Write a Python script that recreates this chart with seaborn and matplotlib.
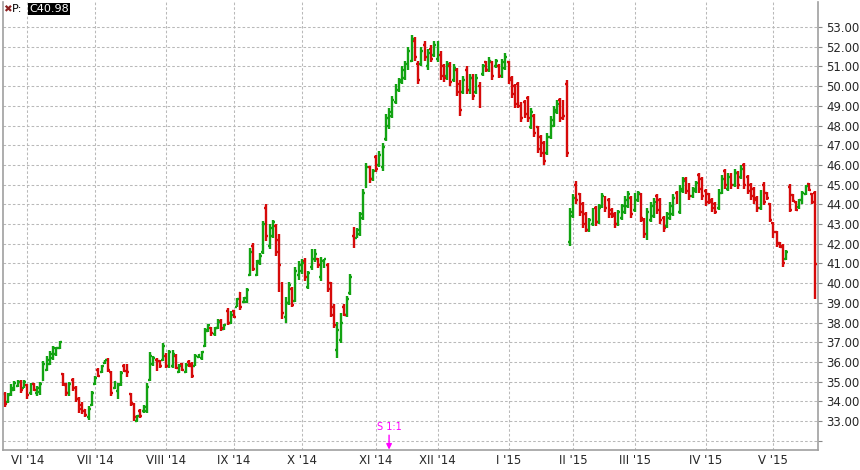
"""Daily OHLC bar chart, May 2014 - May 2015."""

import numpy as np
import pandas as pd
import matplotlib
matplotlib.use('Agg')
import matplotlib.pyplot as plt
import seaborn as sns

# trading calendar (exchange holidays inside the range)
holidays = ['2014-05-26', '2014-07-04', '2014-09-01', '2014-11-27', '2014-12-25',
            '2015-01-01', '2015-01-19', '2015-02-16', '2015-04-03']
dates = pd.bdate_range('2014-05-21', periods=252, freq='C', holidays=holidays)

opens = [
    34.35, 33.95, 34.35, 34.60, 34.80, 35.00, 34.70, 34.85, 34.40, 34.90,
    34.40, 34.45, 35.10, 35.60, 35.90, 36.20, 36.40, 36.70, 35.40, 34.85,
    34.40, 35.10, 34.70, 34.10, 33.80, 33.55, 33.20, 33.80, 34.90, 35.60,
    35.50, 35.95, 36.10, 35.50, 34.70, 34.50, 34.90, 35.80, 35.80, 34.35,
    33.85, 33.00, 33.50, 33.50, 33.50, 35.10, 35.90, 36.10, 36.05, 36.10,
    36.30, 35.80, 35.80, 36.30, 35.50, 35.90, 35.50, 36.00, 35.90, 35.80,
    36.25, 36.20, 36.80, 37.55, 37.70, 37.40, 37.70, 38.10, 37.65, 38.60,
    38.00, 38.60, 38.80, 39.50, 39.05, 39.05, 40.40, 41.90, 40.40, 41.00,
    41.60, 43.80, 41.90, 42.40, 42.90, 42.20, 39.90, 38.30, 39.00, 39.70,
    39.10, 40.40, 40.60, 41.10, 39.80, 40.80, 41.20, 41.20, 40.30, 40.90,
    40.90, 40.00, 38.80, 36.60, 37.10, 38.80, 38.40, 39.50, 42.40, 42.30,
    42.50, 43.30, 44.90, 45.90, 45.30, 46.40, 46.00, 45.90, 47.30, 48.00,
    48.50, 49.20, 49.80, 50.20, 50.40, 50.90, 51.30, 52.30, 51.10, 51.10,
    52.10, 51.00, 51.90, 51.60, 51.40, 51.60, 51.00, 50.50, 51.00, 50.30,
    50.80, 50.10, 49.70, 50.80, 49.80, 50.40, 49.70, 50.00, 50.60, 51.20,
    50.80, 51.20, 51.00, 51.00, 50.50, 50.90, 51.20, 50.40, 50.00, 50.10,
    49.10, 49.20, 49.40, 47.90, 48.50, 47.90, 47.40, 47.10, 46.60, 47.40,
    48.00, 48.70, 49.30, 49.20, 50.10, 42.10, 43.40, 45.00, 44.50, 44.00,
    43.50, 42.70, 43.00, 43.80, 43.10, 43.90, 44.30, 44.20, 43.70, 43.50,
    43.00, 43.30, 43.60, 43.90, 44.30, 43.70, 44.20, 44.50, 43.20, 42.30,
    43.20, 43.40, 44.40, 44.20, 43.30, 42.90, 43.30, 43.50, 44.60, 43.60,
    44.70, 45.30, 45.00, 44.40, 44.70, 45.50, 45.30, 44.70, 44.50, 44.20,
    44.00, 43.80, 44.60, 45.70, 44.80, 45.50, 45.00, 45.60, 45.40, 46.00,
    45.40, 45.00, 44.80, 44.30, 43.80, 45.00, 44.55, 44.00, 43.05, 42.60,
    42.05, 41.90, 41.25, 44.90, 44.45, 44.10, 43.85, 44.05, 44.50, 45.05,
    44.50, 44.60,
]
highs = [
    34.46, 34.41, 34.88, 35.05, 35.10, 35.10, 35.10, 34.90, 34.93, 34.93,
    34.80, 34.97, 36.07, 36.30, 36.54, 36.83, 36.78, 37.05, 35.44, 34.92,
    35.00, 35.17, 34.80, 34.21, 33.99, 33.62, 33.74, 34.55, 35.27, 35.68,
    35.86, 36.12, 36.20, 35.56, 35.05, 34.92, 35.56, 35.90, 35.90, 34.43,
    33.90, 33.33, 33.62, 33.82, 34.92, 36.52, 36.32, 36.20, 36.12, 36.95,
    36.46, 36.62, 36.60, 36.40, 35.90, 35.95, 35.93, 36.12, 35.98, 36.40,
    36.40, 36.58, 37.73, 37.93, 37.76, 37.76, 38.20, 38.20, 37.93, 38.72,
    38.57, 38.65, 39.24, 39.56, 39.31, 39.75, 41.77, 42.03, 41.18, 41.52,
    43.16, 44.00, 43.00, 43.20, 43.00, 42.50, 40.05, 39.29, 40.08, 39.80,
    40.81, 41.10, 41.20, 41.27, 40.64, 41.71, 41.71, 41.29, 41.32, 41.25,
    41.03, 40.07, 38.94, 38.05, 38.50, 38.94, 39.36, 40.46, 42.86, 42.79,
    43.62, 44.77, 46.09, 45.95, 45.78, 46.51, 46.71, 47.13, 48.60, 48.90,
    49.50, 50.10, 50.40, 51.00, 51.30, 52.00, 52.60, 52.50, 51.30, 52.00,
    52.30, 51.90, 52.10, 52.30, 52.30, 51.80, 51.10, 51.30, 51.20, 51.10,
    50.90, 50.30, 50.50, 51.00, 50.60, 50.60, 50.60, 50.20, 51.10, 51.30,
    51.50, 51.30, 51.40, 51.10, 51.40, 51.70, 51.30, 50.50, 50.10, 50.20,
    49.20, 49.30, 49.50, 48.90, 48.60, 48.00, 47.50, 47.20, 47.60, 48.50,
    49.00, 49.30, 49.40, 49.30, 50.30, 43.80, 44.50, 45.20, 44.60, 44.10,
    43.60, 43.30, 43.80, 43.90, 44.00, 44.60, 44.40, 44.30, 43.80, 43.60,
    43.70, 44.00, 44.40, 44.70, 44.40, 44.60, 44.70, 44.60, 43.30, 43.80,
    44.10, 44.30, 44.50, 44.30, 43.40, 43.60, 44.10, 44.50, 44.70, 45.00,
    45.40, 45.40, 45.10, 44.90, 45.20, 45.60, 45.40, 44.80, 44.60, 44.30,
    44.10, 44.80, 45.50, 45.80, 45.60, 45.60, 45.80, 45.70, 46.00, 46.10,
    45.50, 45.10, 44.90, 44.40, 44.72, 45.11, 44.63, 44.07, 43.10, 42.67,
    42.10, 41.99, 41.68, 45.03, 44.53, 44.19, 44.29, 44.67, 45.00, 45.10,
    44.60, 44.69,
]
lows = [
    33.70, 33.90, 34.29, 34.51, 34.72, 34.41, 34.66, 34.11, 34.33, 34.55,
    34.26, 34.34, 35.02, 35.53, 35.85, 36.10, 36.32, 36.66, 34.77, 34.29,
    34.26, 34.55, 33.96, 33.40, 33.36, 33.20, 33.03, 33.75, 34.85, 35.22,
    35.44, 35.90, 35.48, 34.29, 34.63, 34.12, 34.77, 35.48, 35.22, 33.75,
    32.98, 32.94, 33.14, 33.41, 33.41, 35.05, 35.78, 35.53, 35.70, 36.03,
    35.70, 35.68, 35.70, 35.64, 35.44, 35.53, 35.44, 35.76, 35.17, 35.78,
    36.20, 36.12, 36.75, 37.50, 37.34, 37.30, 37.66, 37.56, 37.60, 37.88,
    37.93, 38.22, 38.77, 38.65, 39.00, 39.00, 40.34, 40.60, 40.34, 40.93,
    41.50, 42.15, 41.75, 42.30, 41.40, 39.55, 38.19, 37.97, 38.91, 38.81,
    39.03, 40.14, 40.47, 40.10, 39.68, 40.69, 41.07, 40.76, 40.10, 40.78,
    39.54, 38.27, 37.71, 36.19, 36.97, 38.32, 38.27, 39.42, 41.76, 42.27,
    42.40, 43.22, 44.85, 45.10, 45.16, 45.65, 45.87, 45.70, 47.20, 47.80,
    48.40, 49.10, 49.70, 50.10, 50.30, 50.80, 51.20, 51.30, 50.10, 51.00,
    51.30, 50.80, 51.20, 51.50, 51.20, 50.30, 50.20, 50.30, 50.00, 50.20,
    49.50, 48.50, 49.60, 49.60, 49.60, 49.30, 49.60, 48.90, 50.50, 50.70,
    50.70, 50.30, 50.90, 50.40, 50.40, 50.80, 50.10, 49.40, 48.90, 48.90,
    48.20, 48.40, 48.20, 47.80, 47.40, 46.60, 46.40, 46.00, 46.50, 47.30,
    47.90, 48.60, 48.20, 48.30, 46.40, 41.90, 43.30, 44.00, 43.40, 42.80,
    42.60, 42.60, 42.90, 42.90, 43.00, 43.80, 43.60, 43.30, 43.30, 42.80,
    42.90, 43.20, 43.50, 43.80, 43.30, 43.60, 44.10, 43.10, 42.30, 42.20,
    43.10, 43.30, 43.50, 43.00, 42.60, 42.80, 43.20, 43.40, 44.00, 43.50,
    44.60, 44.50, 44.20, 44.30, 44.60, 44.60, 44.20, 43.90, 44.00, 43.60,
    43.50, 43.70, 44.50, 44.80, 44.70, 44.80, 44.90, 44.80, 45.30, 44.80,
    44.50, 44.20, 44.00, 43.60, 43.70, 43.95, 44.24, 43.10, 42.30, 41.82,
    41.80, 40.80, 41.19, 43.59, 44.10, 43.64, 43.78, 44.00, 44.46, 44.69,
    44.04, 39.17,
]
closes = [
    33.85, 34.30, 34.70, 34.95, 35.00, 34.60, 35.00, 34.30, 34.85, 34.60,
    34.70, 34.90, 35.90, 36.10, 36.40, 36.70, 36.70, 37.00, 34.90, 34.40,
    34.90, 34.70, 34.10, 33.60, 33.50, 33.30, 33.60, 34.40, 35.20, 35.30,
    35.80, 36.10, 35.60, 34.40, 35.00, 34.85, 35.45, 35.55, 35.50, 33.90,
    33.20, 33.25, 33.25, 33.70, 34.75, 36.30, 36.20, 35.70, 35.80, 36.80,
    35.80, 36.50, 36.40, 35.70, 35.80, 35.60, 35.85, 35.80, 35.30, 36.30,
    36.35, 36.50, 37.60, 37.85, 37.45, 37.70, 38.05, 37.70, 37.90, 38.00,
    38.40, 38.30, 39.20, 38.80, 39.25, 39.65, 41.60, 40.70, 41.10, 41.40,
    43.00, 42.40, 42.80, 43.10, 41.60, 40.90, 38.50, 39.00, 39.90, 38.90,
    40.60, 40.90, 41.00, 40.30, 40.50, 41.50, 41.50, 40.90, 41.10, 41.20,
    39.70, 38.40, 37.90, 37.60, 38.00, 38.40, 39.20, 40.30, 41.90, 42.70,
    43.50, 44.60, 45.90, 45.30, 45.70, 45.80, 46.50, 46.90, 48.40, 48.70,
    49.30, 49.90, 50.30, 50.80, 51.10, 51.80, 52.40, 51.50, 50.30, 51.80,
    51.50, 51.70, 51.40, 52.10, 52.10, 50.50, 50.40, 51.10, 50.20, 50.90,
    49.70, 48.80, 50.30, 49.80, 50.40, 49.50, 50.40, 49.10, 51.00, 50.80,
    51.30, 50.50, 51.30, 50.50, 51.20, 51.50, 50.30, 49.60, 49.10, 49.00,
    48.40, 48.60, 48.40, 48.70, 47.60, 46.80, 46.60, 46.20, 47.40, 48.30,
    48.80, 49.10, 48.40, 48.50, 46.60, 43.60, 44.30, 44.20, 43.60, 43.00,
    42.70, 43.20, 43.60, 43.10, 43.80, 44.40, 43.80, 43.50, 43.40, 43.00,
    43.60, 43.90, 44.20, 44.50, 43.50, 44.40, 44.60, 43.30, 42.50, 43.60,
    43.90, 44.10, 43.70, 43.20, 42.80, 43.50, 43.90, 44.30, 44.10, 44.80,
    45.20, 44.70, 44.40, 44.80, 45.10, 44.80, 44.40, 44.10, 44.10, 43.80,
    43.60, 44.60, 45.30, 45.00, 45.40, 45.00, 45.60, 45.00, 45.80, 45.00,
    44.70, 44.40, 44.20, 43.80, 44.60, 44.10, 44.30, 43.20, 42.60, 42.00,
    41.85, 41.00, 41.60, 43.70, 44.15, 43.70, 44.20, 44.60, 44.95, 44.75,
    44.10, 40.98,
]

month_labels = ["VI '14", "VII '14", "VIII '14", "IX '14", "X '14", "XI '14",
                "XII '14", "I '15", "II '15", "III '15", "IV '15", "V '15"]
split_date = '2014-11-07'
split_text = 'S 1:1'
last_close = closes[-1]

df = pd.DataFrame({'date': dates, 'open': opens, 'high': highs,
                   'low': lows, 'close': closes})
df['x'] = np.arange(len(df))
up = df['close'] >= df['open']

sns.set_style('white')
plt.rcParams['font.family'] = ['DejaVu Sans']

GREEN = '#12a312'
RED = '#d60a0a'
GRID = '#b9b9b9'
SPINE = '#a0a0a0'

fig = plt.figure(figsize=(8.6, 4.7), dpi=100)
ax = fig.add_axes([3 / 860, 20 / 470, 815 / 860, 448 / 470])

colors = np.where(up, GREEN, RED)
lw = 1.7
ax.vlines(df['x'], df['low'], df['high'], colors=colors, lw=lw)
ax.hlines(df['open'], df['x'] - 0.6, df['x'], colors=colors, lw=lw)
ax.hlines(df['close'], df['x'], df['x'] + 0.6, colors=colors, lw=lw)

ax.set_xlim(-0.53, 251.8)
ax.set_ylim(31.53, 54.27)

# month ticks on first trading day of each month
month_start = df.groupby(df['date'].dt.to_period('M'))['x'].min().values[1:]
ax.set_xticks(month_start)
ax.set_xticklabels(month_labels, fontsize=8.5)
ax.tick_params(axis='x', length=0, pad=3)

yt = np.arange(32, 54)
ax.set_yticks(yt)
ax.set_yticklabels([''] + [f'{v:.2f}' for v in yt[1:]], fontsize=8.5)
ax.yaxis.tick_right()
ax.tick_params(axis='y', length=3, width=0.8, color='#888888', pad=3)

ax.grid(True, color=GRID, linestyle=(0, (2.5, 2)), lw=0.75)
ax.set_axisbelow(True)

for side in ['left', 'right', 'bottom']:
    ax.spines[side].set_visible(True)
    ax.spines[side].set_color(SPINE)
    ax.spines[side].set_linewidth(1.2)
ax.spines['top'].set_visible(False)

# split marker
sx = df.loc[df['date'] == pd.Timestamp(split_date), 'x'].iloc[0]
ax.annotate(split_text, xy=(sx, 31.55), xytext=(sx, 32.45),
            ha='center', va='bottom', color='#ff00ff', fontsize=7,
            annotation_clip=False,
            arrowprops=dict(arrowstyle='-|>', color='#ff00ff', lw=1,
                            mutation_scale=8, shrinkA=0, shrinkB=0))

# last price label
fig.text(3 / 860, 1 - 9 / 470, '\u2716', color='#8b2020', fontsize=7.5, va='center')
fig.text(12 / 860, 1 - 9 / 470, 'P:', color='black', fontsize=8, va='center')
fig.text(29 / 860, 1 - 9 / 470, f'C{last_close:.2f}', color='white', fontsize=8,
         va='center',
         bbox=dict(boxstyle='square,pad=0.12', fc='black', ec='none'))

fig.savefig('out.png', dpi=100)
